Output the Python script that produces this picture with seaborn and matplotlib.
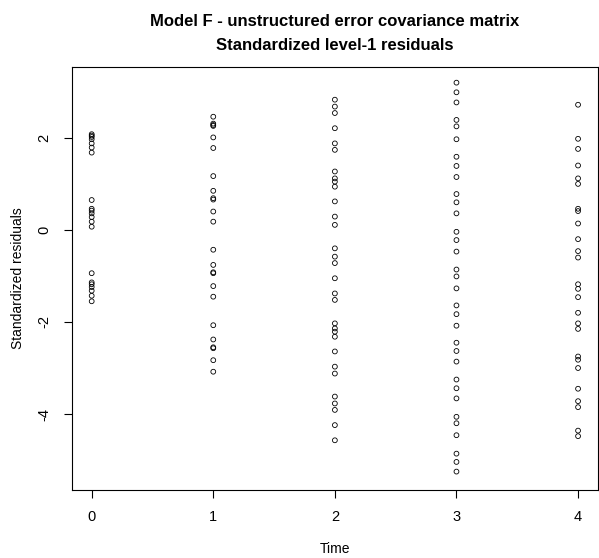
import numpy as np
import pandas as pd
import matplotlib
matplotlib.use("Agg")
import matplotlib.pyplot as plt
import seaborn as sns

# Standardized level-1 residuals by measurement occasion
time_points = [0, 1, 2, 3, 4]

resid_t0 = [2.08, 2.05, 2.02, 1.97, 1.88, 1.79, 1.68,
            0.65, 0.46, 0.42, 0.36, 0.28, 0.18, 0.07,
            -0.94, -1.14, -1.18, -1.24, -1.32, -1.43, -1.55]
resid_t1 = [2.46, 2.31, 2.28, 2.26, 2.01, 1.78,
            1.17, 0.85, 0.69, 0.66, 0.40, 0.18,
            -0.43, -0.76, -0.92, -0.94, -1.22, -1.45,
            -2.07, -2.38, -2.55, -2.57, -2.83, -3.08]
resid_t2 = [2.83, 2.68, 2.54, 2.21, 1.88, 1.74,
            1.27, 1.12, 1.05, 0.94, 0.62, 0.29, 0.11,
            -0.40, -0.58, -0.72, -1.05, -1.38, -1.52,
            -2.03, -2.14, -2.21, -2.32, -2.64, -2.97, -3.12,
            -3.62, -3.77, -3.91, -4.24, -4.57]
resid_t3 = [3.20, 2.99, 2.77, 2.39, 2.25, 1.97, 1.59, 1.39, 1.15,
            0.78, 0.60, 0.36, -0.04, -0.22, -0.47, -0.86, -1.01, -1.27,
            -1.64, -1.83, -2.08, -2.45, -2.63, -2.86, -3.25, -3.44, -3.66,
            -4.06, -4.20, -4.46, -4.86, -5.04, -5.25]
resid_t4 = [2.72, 1.98, 1.76, 1.40, 1.12, 1.00, 0.46, 0.41, 0.14,
            -0.20, -0.46, -0.60, -1.18, -1.28, -1.46, -1.80, -2.03, -2.15,
            -2.75, -2.82, -3.00, -3.45, -3.72, -3.85, -4.36, -4.48]

x_ticks = [0, 1, 2, 3, 4]
y_ticks = [-4, -2, 0, 2]

series = [resid_t0, resid_t1, resid_t2, resid_t3, resid_t4]
df = pd.DataFrame({
    "Time": np.concatenate([[t] * len(r) for t, r in zip(time_points, series)]),
    "resid": np.concatenate(series),
})

sns.set_style("white")
plt.rcParams["font.family"] = ["Liberation Sans", "DejaVu Sans"]
plt.rcParams["text.color"] = "black"

W, H = 599, 558
fig = plt.figure(figsize=(W / 100, H / 100), dpi=100)
ax = fig.add_axes([71.5 / W, 1 - 490 / H, (598 - 71.5) / W, (490 - 67) / H])

sns.scatterplot(data=df, x="Time", y="resid", ax=ax, marker="o", s=12,
                facecolor="none", edgecolor="black", linewidth=0.6,
                legend=False)

ax.set_xlim(-0.166, 4.164)
ax.set_ylim(-5.65, 3.54)
ax.set_xticks(x_ticks)
ax.set_xticklabels([str(v) for v in x_ticks])
ax.set_yticks(y_ticks)
ax.set_yticklabels([str(v) for v in y_ticks], rotation=90, va="center")
ax.tick_params(axis="both", direction="out", length=5.5, width=0.8,
               color="black", labelsize=10.5, pad=9, labelcolor="black")
ax.tick_params(axis="both", which="both", bottom=True, left=True)

for sp in ax.spines.values():
    sp.set_visible(True)
    sp.set_color("black")
    sp.set_linewidth(0.8)

ax.set_xlabel("")
ax.set_ylabel("")
fig.text(335 / W, 1 - 549 / H, "Time", ha="center", va="center",
         fontsize=10, color="black")
fig.text(18 / W, 1 - 278 / H, "Standardized residuals", ha="center",
         va="center", rotation=90, fontsize=10, color="black")
fig.text(335 / W, 1 - 21 / H, "Model F - unstructured error covariance matrix",
         ha="center", va="center", fontsize=12, fontweight="bold", color="black")
fig.text(335 / W, 1 - 45 / H, "Standardized level-1 residuals",
         ha="center", va="center", fontsize=12, fontweight="bold", color="black")

fig.savefig("out.png", dpi=100, facecolor="white")
